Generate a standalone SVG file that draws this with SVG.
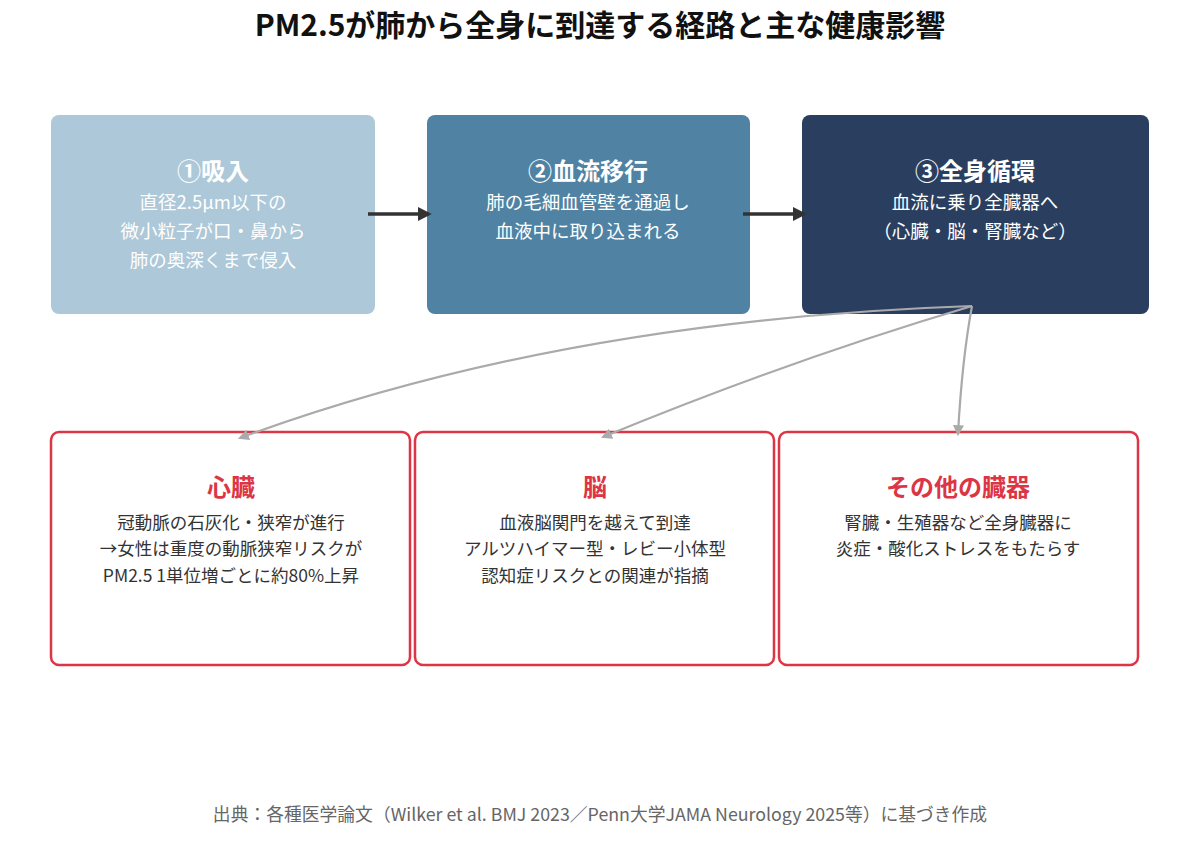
<svg xmlns="http://www.w3.org/2000/svg" width="1200" height="863" viewBox="0 0 1200 863">
<defs>
<style>
text{font-family:"Noto Sans CJK JP","Noto Sans",sans-serif;text-anchor:middle}
.title{font-size:30px;font-weight:700;fill:#111}
.nt{font-size:24px;font-weight:700;fill:#fff}
.ns{font-size:18.5px;fill:#fff}
.rt{font-size:24px;font-weight:700;fill:#dc3545}
.rs{font-size:17.5px;fill:#333}
.foot{font-size:17.8px;fill:#666}
.rbox{fill:#fff;stroke:#dc3545;stroke-width:2.5}
.flow{stroke:#333;stroke-width:3.5;fill:none}
.curve{stroke:#aaa;stroke-width:2.2;fill:none}
</style>
<marker id="ad" viewBox="0 0 10 10" refX="8" refY="5" markerWidth="4" markerHeight="4" orient="auto"><path d="M0,0 L10,5 L0,10 z" fill="#333"/></marker>
<marker id="ag" viewBox="0 0 10 10" refX="8" refY="5" markerWidth="5" markerHeight="5" orient="auto"><path d="M0,0 L10,5 L0,10 z" fill="#aaa"/></marker>
</defs>
<rect width="1200" height="863" fill="#fff"/>
<text class="title" x="600" y="36">PM2.5が肺から全身に到達する経路と主な健康影響</text>
<g id="n1">
<rect x="51" y="115" width="324" height="199" rx="8" fill="#adc8d8"/>
<text class="nt" x="213" y="180">①吸入</text>
<text class="ns" x="213" y="208.5">直径2.5μm以下の</text>
<text class="ns" x="213" y="237.5">微小粒子が口・鼻から</text>
<text class="ns" x="213" y="266.5">肺の奥深くまで侵入</text>
</g>
<g id="n2">
<rect x="427" y="115" width="323" height="199" rx="8" fill="#5083a3"/>
<text class="nt" x="588" y="180">②血流移行</text>
<text class="ns" x="588" y="208.5">肺の毛細血管壁を通過し</text>
<text class="ns" x="588" y="237.5">血液中に取り込まれる</text>
</g>
<g id="n3">
<rect x="802" y="115" width="347" height="199" rx="8" fill="#2a3f60"/>
<text class="nt" x="975" y="180">③全身循環</text>
<text class="ns" x="975" y="208.5">血流に乗り全臓器へ</text>
<text class="ns" x="975" y="237.5">（心臓・脳・腎臓など）</text>
</g>
<g id="heart">
<rect class="rbox" x="51" y="432" width="359" height="233" rx="8"/>
<text class="rt" x="231" y="495.5">心臓</text>
<text class="rs" x="231" y="529">冠動脈の石灰化・狭窄が進行</text>
<text class="rs" x="231" y="555">→女性は重度の動脈狭窄リスクが</text>
<text class="rs" x="231" y="582">PM2.5 1単位増ごとに約80%上昇</text>
</g>
<g id="brain">
<rect class="rbox" x="415" y="432" width="359" height="233" rx="8"/>
<text class="rt" x="595" y="495.5">脳</text>
<text class="rs" x="595" y="529">血液脳関門を越えて到達</text>
<text class="rs" x="595" y="555">アルツハイマー型・レビー小体型</text>
<text class="rs" x="595" y="582">認知症リスクとの関連が指摘</text>
</g>
<g id="other">
<rect class="rbox" x="779" y="432" width="359" height="233" rx="8"/>
<text class="rt" x="958" y="495.5">その他の臓器</text>
<text class="rs" x="958" y="529">腎臓・生殖器など全身臓器に</text>
<text class="rs" x="958" y="555">炎症・酸化ストレスをもたらす</text>
</g>
<g id="connectors">
<line class="flow" x1="368" y1="214" x2="429" y2="214" marker-end="url(#ad)"/>
<line class="flow" x1="743" y1="214" x2="804" y2="214" marker-end="url(#ad)"/>
<path class="curve" d="M972,306 Q560,320 240,438" marker-end="url(#ag)"/>
<path class="curve" d="M972,306 Q790,360 603,437" marker-end="url(#ag)"/>
<path class="curve" d="M972,306 Q962,360 958,434" marker-end="url(#ag)"/>
</g>
<text class="foot" x="600" y="821">出典：各種医学論文（Wilker et al. BMJ 2023／Penn大学JAMA Neurology 2025等）に基づき作成</text>
</svg>
